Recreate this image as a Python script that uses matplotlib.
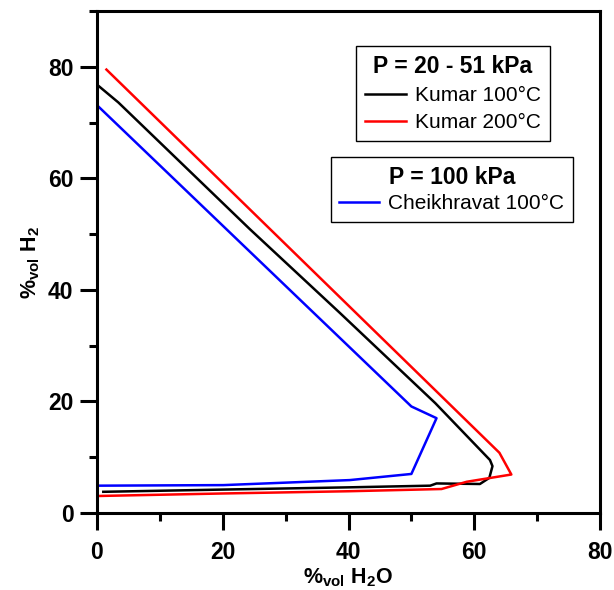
import matplotlib
matplotlib.use('Agg')
import matplotlib.pyplot as plt
from matplotlib.ticker import MultipleLocator

plt.rcParams['font.family'] = ['Liberation Sans', 'DejaVu Sans']
plt.rcParams['mathtext.fontset'] = 'custom'
plt.rcParams['mathtext.rm'] = 'Liberation Sans:bold'
plt.rcParams['mathtext.it'] = 'Liberation Sans:bold'
plt.rcParams['mathtext.bf'] = 'Liberation Sans:bold'
plt.rcParams['mathtext.default'] = 'rm'

# Kumar 100°C (20 - 51 kPa)
kumar100_h2o = [0, 3.4, 24.3, 38.6, 53.8, 62.5, 62.9, 62.4, 60.9, 54.0, 53.0, 40.0, 20.0, 1.0]
kumar100_h2 = [76.8, 73.6, 50.9, 35.9, 19.7, 9.5, 8.4, 6.3, 5.2, 5.3, 4.9, 4.6, 4.2, 3.8]

# Kumar 200°C (20 - 51 kPa)
kumar200_h2o = [1.5, 64.0, 65.9, 58.8, 54.8, 40.0, 20.0, 0.2]
kumar200_h2 = [79.5, 10.8, 6.9, 5.6, 4.3, 3.9, 3.5, 3.05]

# Cheikhravat 100°C (100 kPa)
cheik_h2o = [0.2, 50.0, 54.0, 50.0, 40.2, 20.1, 0.2]
cheik_h2 = [72.9, 19.1, 17.0, 7.0, 5.9, 5.0, 4.9]

fig = plt.figure(figsize=(6.14, 5.90), dpi=100)
ax = fig.add_axes([97/614, 1-513/590, (600-97)/614, (513-11)/590])

lw = 1.8
l1, = ax.plot(kumar100_h2o, kumar100_h2, color='black', lw=lw)
l2, = ax.plot(kumar200_h2o, kumar200_h2, color='red', lw=lw)
l3, = ax.plot(cheik_h2o, cheik_h2, color='blue', lw=lw)

ax.set_xlim(0, 80)
ax.set_ylim(0, 90)
ax.xaxis.set_major_locator(MultipleLocator(20))
ax.xaxis.set_minor_locator(MultipleLocator(10))
ax.yaxis.set_major_locator(MultipleLocator(20))
ax.yaxis.set_minor_locator(MultipleLocator(10))
ax.tick_params(which='both', direction='out', width=2.2, top=False, right=False)
ax.tick_params(which='major', length=12, labelsize=16.5)
ax.tick_params(axis='x', which='major', pad=8)
ax.tick_params(axis='y', which='major', pad=5)
ax.tick_params(which='minor', length=6)
for lab in ax.get_xticklabels() + ax.get_yticklabels():
    lab.set_fontweight('bold')
for sp in ax.spines.values():
    sp.set_linewidth(2.2)

ax.set_xlabel(r'%$_{vol}$ H$_2$O', fontsize=15.5, fontweight='bold', labelpad=2)
ax.set_ylabel(r'%$_{vol}$ H$_2$', fontsize=15.5, fontweight='bold', labelpad=4)

leg1 = ax.legend([l1, l2], ['Kumar 100°C', 'Kumar 200°C'], title='P = 20 - 51 kPa',
                 title_fontproperties={'weight': 'bold', 'size': 16.5}, fontsize=15,
                 loc='upper left', bbox_to_anchor=(356/614, 1-46/590), bbox_transform=fig.transFigure,
                 fancybox=False, framealpha=1, edgecolor='black', borderaxespad=0,
                 handlelength=2.0, handletextpad=0.4, labelspacing=0.4, borderpad=0.42)
leg1.get_frame().set_linewidth(1.0)
ax.add_artist(leg1)

leg2 = ax.legend([l3], ['Cheikhravat 100°C'], title='P = 100 kPa',
                 title_fontproperties={'weight': 'bold', 'size': 16.5}, fontsize=15,
                 loc='upper right', bbox_to_anchor=(573/614, 1-157/590), bbox_transform=fig.transFigure,
                 fancybox=False, framealpha=1, edgecolor='black', borderaxespad=0,
                 handlelength=1.9, handletextpad=0.45, labelspacing=0.25, borderpad=0.42)
leg2.get_frame().set_linewidth(1.0)

fig.savefig('out.png', dpi=100)
